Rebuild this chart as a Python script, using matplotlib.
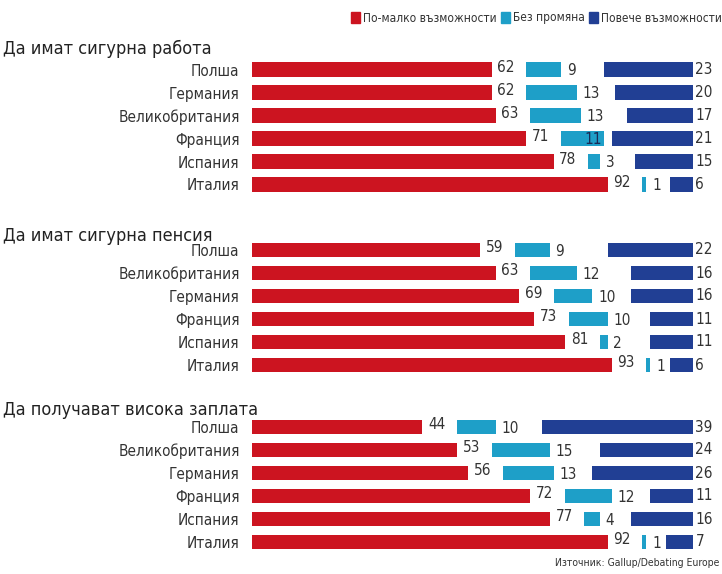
import matplotlib.pyplot as plt
from matplotlib.patches import Patch

plt.rcParams['font.family'] = ['DejaVu Sans']
plt.rcParams['font.stretch'] = 'condensed'

series_names = ["По-малко възможности", "Без промяна", "Повече възможности"]
colors = ["#cc1420", "#1e9fc8", "#213f94"]

titles = ["Да имат сигурна работа", "Да имат сигурна пенсия", "Да получават висока заплата"]

countries_job = ["Полша", "Германия", "Великобритания", "Франция", "Испания", "Италия"]
less_job = [62, 62, 63, 71, 78, 92]
same_job = [9, 13, 13, 11, 3, 1]
more_job = [23, 20, 17, 21, 15, 6]

countries_pension = ["Полша", "Великобритания", "Германия", "Франция", "Испания", "Италия"]
less_pension = [59, 63, 69, 73, 81, 93]
same_pension = [9, 12, 10, 10, 2, 1]
more_pension = [22, 16, 16, 11, 11, 6]

countries_salary = ["Полша", "Великобритания", "Германия", "Франция", "Испания", "Италия"]
less_salary = [44, 53, 56, 72, 77, 92]
same_salary = [10, 15, 13, 12, 4, 1]
more_salary = [39, 24, 26, 11, 16, 7]

panels = [
    (countries_job, less_job, same_job, more_job),
    (countries_pension, less_pension, same_pension, more_pension),
    (countries_salary, less_salary, same_salary, more_salary),
]

W, H = 722, 574
fig = plt.figure(figsize=(W / 100, H / 100), dpi=100)

px_per_unit = 3.866
x0 = 252
gap = 9        # празно място между червената и синята лента
right = 114    # тъмносините ленти са подравнени вдясно тук
first_row = [69.5, 250, 427]  # y на първия ред (пиксели)
pitch = 23
title_y = [49, 236, 410]
text_col = "#333333"

for k, (names, less, same, more) in enumerate(panels):
    top = first_row[k] - pitch / 2
    bottom = top + 6 * pitch
    ax = fig.add_axes([x0 / W, 1 - bottom / H, (W - x0) / W, (bottom - top) / H])
    ax.set_xlim(0, (W - x0) / px_per_unit)
    ax.set_ylim(5.5, -0.5)
    y = range(len(names))
    start_same = [v + gap for v in less]
    start_more = [right - v for v in more]
    ax.barh(y, less, height=0.65, color=colors[0])
    ax.barh(y, same, left=start_same, height=0.65, color=colors[1])
    ax.barh(y, more, left=start_more, height=0.65, color=colors[2])
    for i in y:
        ax.text(less[i] + 1.5, i - 0.1, str(less[i]), va='center', ha='left', fontsize=11, color=text_col)
        end_same = start_same[i] + same[i]
        lbl_w = 2 * len(str(same[i]))
        if end_same + 1.5 + lbl_w > start_more[i]:
            # няма място - числото влиза в лентата
            ax.text(end_same - 0.5, i + 0.05, str(same[i]), va='center', ha='right', fontsize=11, color="#1a2a55")
        else:
            ax.text(end_same + 1.5, i + 0.05, str(same[i]), va='center', ha='left', fontsize=11, color=text_col)
        ax.text(right + 0.7, i, str(more[i]), va='center', ha='left', fontsize=11, color=text_col)
    ax.set_yticks(list(y))
    ax.set_yticklabels(names, fontsize=11, color=text_col)
    ax.tick_params(axis='y', length=0, pad=9)
    ax.set_xticks([])
    for s in ax.spines.values():
        s.set_visible(False)
    fig.text(3 / W, 1 - title_y[k] / H, titles[k], fontsize=13, color="#222222", va='center', ha='left')

handles = [Patch(color=c) for c in colors]
fig.legend(handles, series_names, loc='center right', bbox_to_anchor=(1.0, 1 - 18 / H), ncol=3,
           frameon=False, fontsize=8.6, handlelength=0.75, handleheight=1.0, handletextpad=0.25,
           columnspacing=0.35, borderpad=0, borderaxespad=0, labelcolor=text_col)

fig.text(719 / W, 1 - 563 / H, "Източник: Gallup/Debating Europe", fontsize=7.5, color=text_col,
         ha='right', va='center')

fig.savefig("out.png", dpi=100)
